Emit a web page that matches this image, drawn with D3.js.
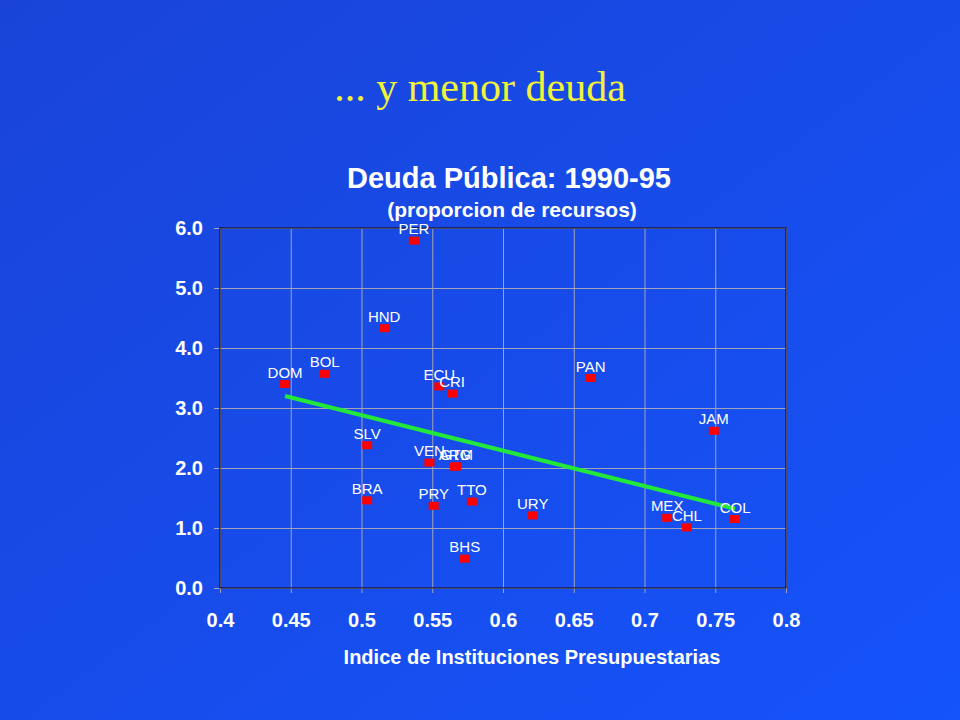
<!DOCTYPE html>
<html lang="es">
<head>
<meta charset="utf-8">
<title>Deuda Pública: 1990-95</title>
<script src="https://cdn.jsdelivr.net/npm/d3@7"></script>
<style>
  body { margin: 0; }
  svg text { font-family: "Liberation Sans", Arial, sans-serif; }
</style>
</head>
<body>
<script>
// data
var countries = ["PER", "HND", "DOM", "BOL", "ECU", "CRI", "PAN", "JAM", "SLV", "VEN", "ARG", "GTM",
                 "BRA", "PRY", "TTO", "URY", "MEX", "CHL", "COL", "BHS"];
var indice = [0.537, 0.516, 0.446, 0.474, 0.555, 0.564, 0.662, 0.749, 0.504, 0.548, 0.566, 0.567,
              0.504, 0.551, 0.578, 0.621, 0.716, 0.730, 0.764, 0.573];
var deuda = [5.79, 4.33, 3.40, 3.57, 3.36, 3.24, 3.50, 2.62, 2.38, 2.09, 2.02, 2.03,
             1.46, 1.37, 1.44, 1.21, 1.17, 1.01, 1.15, 0.49];
var trendX = [0.446, 0.764];
var trendY = [3.20, 1.32];
var xTicks = [0.4, 0.45, 0.5, 0.55, 0.6, 0.65, 0.7, 0.75, 0.8];
var yTicks = [0, 1, 2, 3, 4, 5, 6];

var w = 960, h = 720;
var margin = {left: 220, top: 228, right: 174, bottom: 132};

var svg = d3.select("body").append("svg")
    .attr("width", w)
    .attr("height", h);

// background
var grad = svg.append("defs").append("linearGradient")
    .attr("id", "bg")
    .attr("x1", "0%").attr("y1", "0%")
    .attr("x2", "100%").attr("y2", "100%");
grad.append("stop").attr("offset", "0%").attr("stop-color", "#1a44d8");
grad.append("stop").attr("offset", "100%").attr("stop-color", "#1553fb");
svg.append("rect").attr("width", w).attr("height", h).attr("fill", "url(#bg)");

// titles
svg.append("text")
    .attr("x", 480).attr("y", 101)
    .attr("text-anchor", "middle")
    .style("font-family", "'Liberation Serif', 'Times New Roman', serif")
    .attr("font-size", "42px")
    .attr("fill", "#f2f23a")
    .text("... y menor deuda");

svg.append("text")
    .attr("x", 509).attr("y", 188)
    .attr("text-anchor", "middle")
    .attr("font-size", "29px").attr("font-weight", "bold")
    .attr("fill", "white")
    .text("Deuda Pública: 1990-95");

svg.append("text")
    .attr("x", 512).attr("y", 217)
    .attr("text-anchor", "middle")
    .attr("font-size", "21px").attr("font-weight", "bold")
    .attr("fill", "white")
    .text("(proporcion de recursos)");

svg.append("text")
    .attr("x", 532).attr("y", 664)
    .attr("text-anchor", "middle")
    .attr("font-size", "20px").attr("font-weight", "bold")
    .attr("fill", "white")
    .text("Indice de Instituciones Presupuestarias");

// scales
var xScale = d3.scaleLinear()
    .domain([0.4, 0.8])
    .range([margin.left, w - margin.right]);

var yScale = d3.scaleLinear()
    .domain([0, 6])
    .range([h - margin.bottom, margin.top]);

// grid
svg.append("g")
    .attr("transform", "translate(0," + (h - margin.bottom) + ")")
    .call(d3.axisBottom(xScale).tickValues(xTicks).tickSize(-(h - margin.bottom - margin.top)).tickFormat(""))
    .call(function (g) { g.select(".domain").remove(); })
    .selectAll("line").attr("stroke", "#a3a3b8").attr("stroke-width", 1);

svg.append("g")
    .attr("transform", "translate(" + margin.left + ",0)")
    .call(d3.axisLeft(yScale).tickValues(yTicks).tickSize(-(w - margin.right - margin.left)).tickFormat(""))
    .call(function (g) { g.select(".domain").remove(); })
    .selectAll("line").attr("stroke", "#a3a3b8").attr("stroke-width", 1);

// axes with small outside ticks
var xAxis = svg.append("g")
    .attr("transform", "translate(0," + (h - margin.bottom) + ")")
    .call(d3.axisBottom(xScale).tickValues(xTicks).tickSize(5).tickPadding(20)
        .tickFormat(function (d) { return String(+d.toFixed(2)); }));
xAxis.select(".domain").remove();
xAxis.selectAll("line").attr("stroke", "#a3a3b8");
xAxis.selectAll("text")
    .attr("fill", "white")
    .attr("font-size", "20px").attr("font-weight", "bold")
    .style("font-family", "'Liberation Sans', Arial, sans-serif");

var yAxis = svg.append("g")
    .attr("transform", "translate(" + margin.left + ",0)")
    .call(d3.axisLeft(yScale).tickValues(yTicks).tickSize(6).tickPadding(11)
        .tickFormat(d3.format(".1f")));
yAxis.select(".domain").remove();
yAxis.selectAll("line").attr("stroke", "#a3a3b8");
yAxis.selectAll("text")
    .attr("fill", "white")
    .attr("font-size", "20px").attr("font-weight", "bold")
    .style("font-family", "'Liberation Sans', Arial, sans-serif");

// plot frame
svg.append("rect")
    .attr("x", margin.left).attr("y", margin.top)
    .attr("width", w - margin.left - margin.right)
    .attr("height", h - margin.top - margin.bottom)
    .attr("fill", "none")
    .attr("stroke", "#111133")
    .attr("stroke-width", 1.2);

// trend line
svg.append("path")
    .datum(d3.zip(trendX, trendY))
    .attr("fill", "none")
    .attr("stroke", "#22e83a")
    .attr("stroke-width", 4)
    .attr("d", d3.line()
        .x(function (d) { return xScale(d[0]); })
        .y(function (d) { return yScale(d[1]); }));

var points = d3.range(countries.length);

// markers
svg.selectAll("rect.pt")
    .data(points)
    .enter()
    .append("rect")
    .attr("class", "pt")
    .attr("x", function (i) { return xScale(indice[i]) - 5; })
    .attr("y", function (i) { return yScale(deuda[i]) - 4; })
    .attr("width", 10)
    .attr("height", 8)
    .attr("fill", "#ff0000");

// labels
svg.selectAll("text.lbl")
    .data(points)
    .enter()
    .append("text")
    .attr("class", "lbl")
    .attr("x", function (i) { return xScale(indice[i]); })
    .attr("y", function (i) { return yScale(deuda[i]) - 6.5; })
    .attr("text-anchor", "middle")
    .attr("font-size", "15px")
    .attr("fill", "white")
    .text(function (i) { return countries[i]; });
</script>
</body>
</html>
